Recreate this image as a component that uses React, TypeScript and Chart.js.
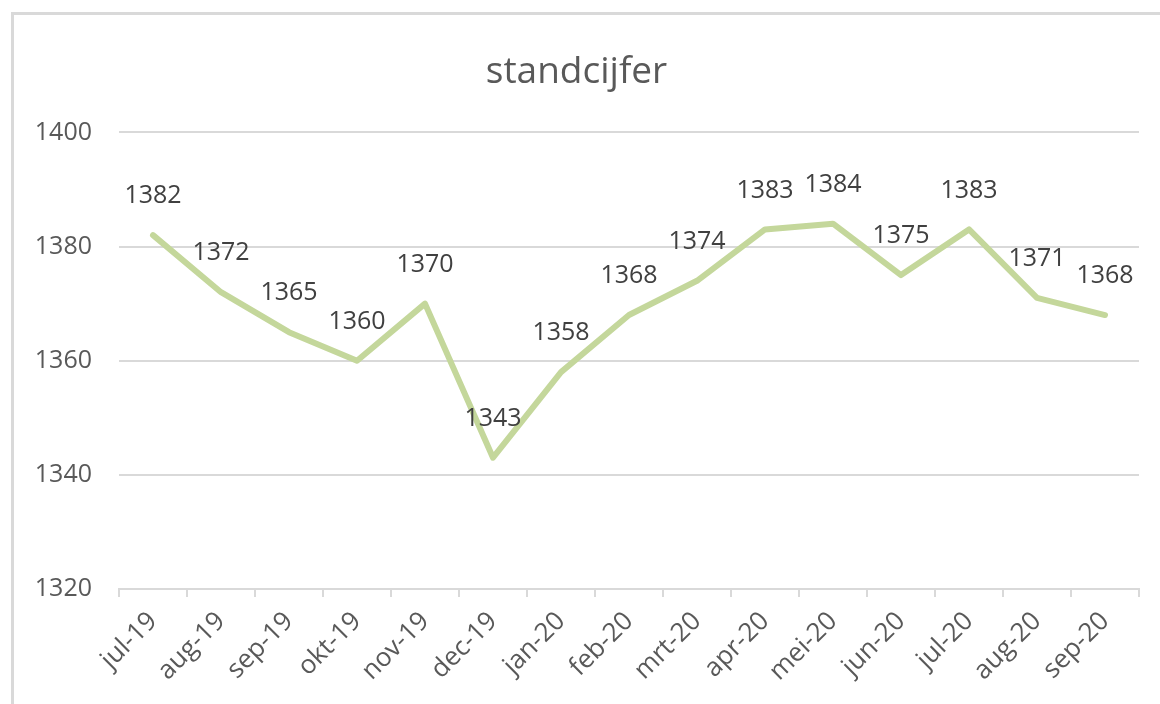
import React, { useEffect, useRef } from "react";
import { Chart, registerables } from "chart.js";

Chart.register(...registerables);

const TITLE = "standcijfer";
const categories = [
  "jul-19", "aug-19", "sep-19", "okt-19", "nov-19", "dec-19", "jan-20",
  "feb-20", "mrt-20", "apr-20", "mei-20", "jun-20", "jul-20", "aug-20", "sep-20",
];
const standcijfer = [1382, 1372, 1365, 1360, 1370, 1343, 1358, 1368, 1374, 1383, 1384, 1375, 1383, 1371, 1368];
const yMin = 1320;
const yMax = 1400;
const yStep = 20;

const FONT = "'Open Sans', 'Noto Sans', sans-serif";
const TEXT = "#595959";

const dataLabelPlugin = {
  id: "dataLabels",
  afterDatasetsDraw(chart: any) {
    const ctx = chart.ctx;
    const meta = chart.getDatasetMeta(0);
    const ds = chart.data.datasets[0];
    ctx.save();
    ctx.font = `25px ${FONT}`;
    ctx.fillStyle = "#404040";
    ctx.textAlign = "center";
    ctx.textBaseline = "middle";
    meta.data.forEach((pt: any, i: number) => {
      ctx.fillText(String(ds.data[i]), pt.x, pt.y - 39);
    });
    ctx.restore();
  },
};

export default function App() {
  const ref = useRef<HTMLCanvasElement | null>(null);
  useEffect(() => {
    if (!ref.current) return;
    const chart = new Chart(ref.current, {
      type: "line",
      data: {
        labels: categories,
        datasets: [
          {
            label: TITLE,
            data: standcijfer,
            borderColor: "#c4d79b",
            borderWidth: 6,
            pointRadius: 0,
            tension: 0,
            borderCapStyle: "round",
            borderJoinStyle: "round",
            fill: false,
          },
        ],
      },
      options: {
        animation: false,
        responsive: false,
        maintainAspectRatio: false,
        layout: { padding: { left: 14, right: 21, top: 0, bottom: 0 } },
        plugins: {
          legend: { display: false },
          tooltip: { enabled: false },
          title: {
            display: true,
            text: TITLE,
            color: TEXT,
            font: { family: FONT, size: 37, weight: "normal" },
            padding: { top: 50, bottom: 38 },
          },
        },
        scales: {
          x: {
            offset: true,
            grid: {
              display: true,
              drawOnChartArea: false,
              drawTicks: true,
              tickLength: 8,
              offset: true,
              color: "#d9d9d9",
              lineWidth: 2,
            },
            border: { display: true, color: "#d9d9d9", width: 2 },
            ticks: {
              color: TEXT,
              font: { family: FONT, size: 26 },
              minRotation: 45,
              maxRotation: 45,
              autoSkip: false,
              padding: 9,
            },
            afterFit(scale: any) {
              scale.height = 115;
            },
          },
          y: {
            min: yMin,
            max: yMax,
            grid: { color: "#d9d9d9", lineWidth: 2, drawTicks: false },
            border: { display: false },
            ticks: {
              stepSize: yStep,
              color: TEXT,
              font: { family: FONT, size: 25 },
              padding: 27,
              callback: (v: any) => String(v),
            },
            afterFit(scale: any) {
              scale.width = 105;
            },
          },
        },
      },
      plugins: [dataLabelPlugin],
    });
    return () => chart.destroy();
  }, []);

  return (
    <div style={{ position: "fixed", left: 0, top: 0, width: 1160, height: 704, background: "#fff", overflow: "hidden" }}>
      <div
        style={{
          position: "absolute",
          left: 11,
          top: 12,
          width: 1200,
          height: 800,
          border: "3px solid #d9d9d9",
          boxSizing: "border-box",
        }}
      />
      <canvas ref={ref} width={1160} height={704} style={{ position: "absolute", left: 0, top: 0 }} />
    </div>
  );
}
